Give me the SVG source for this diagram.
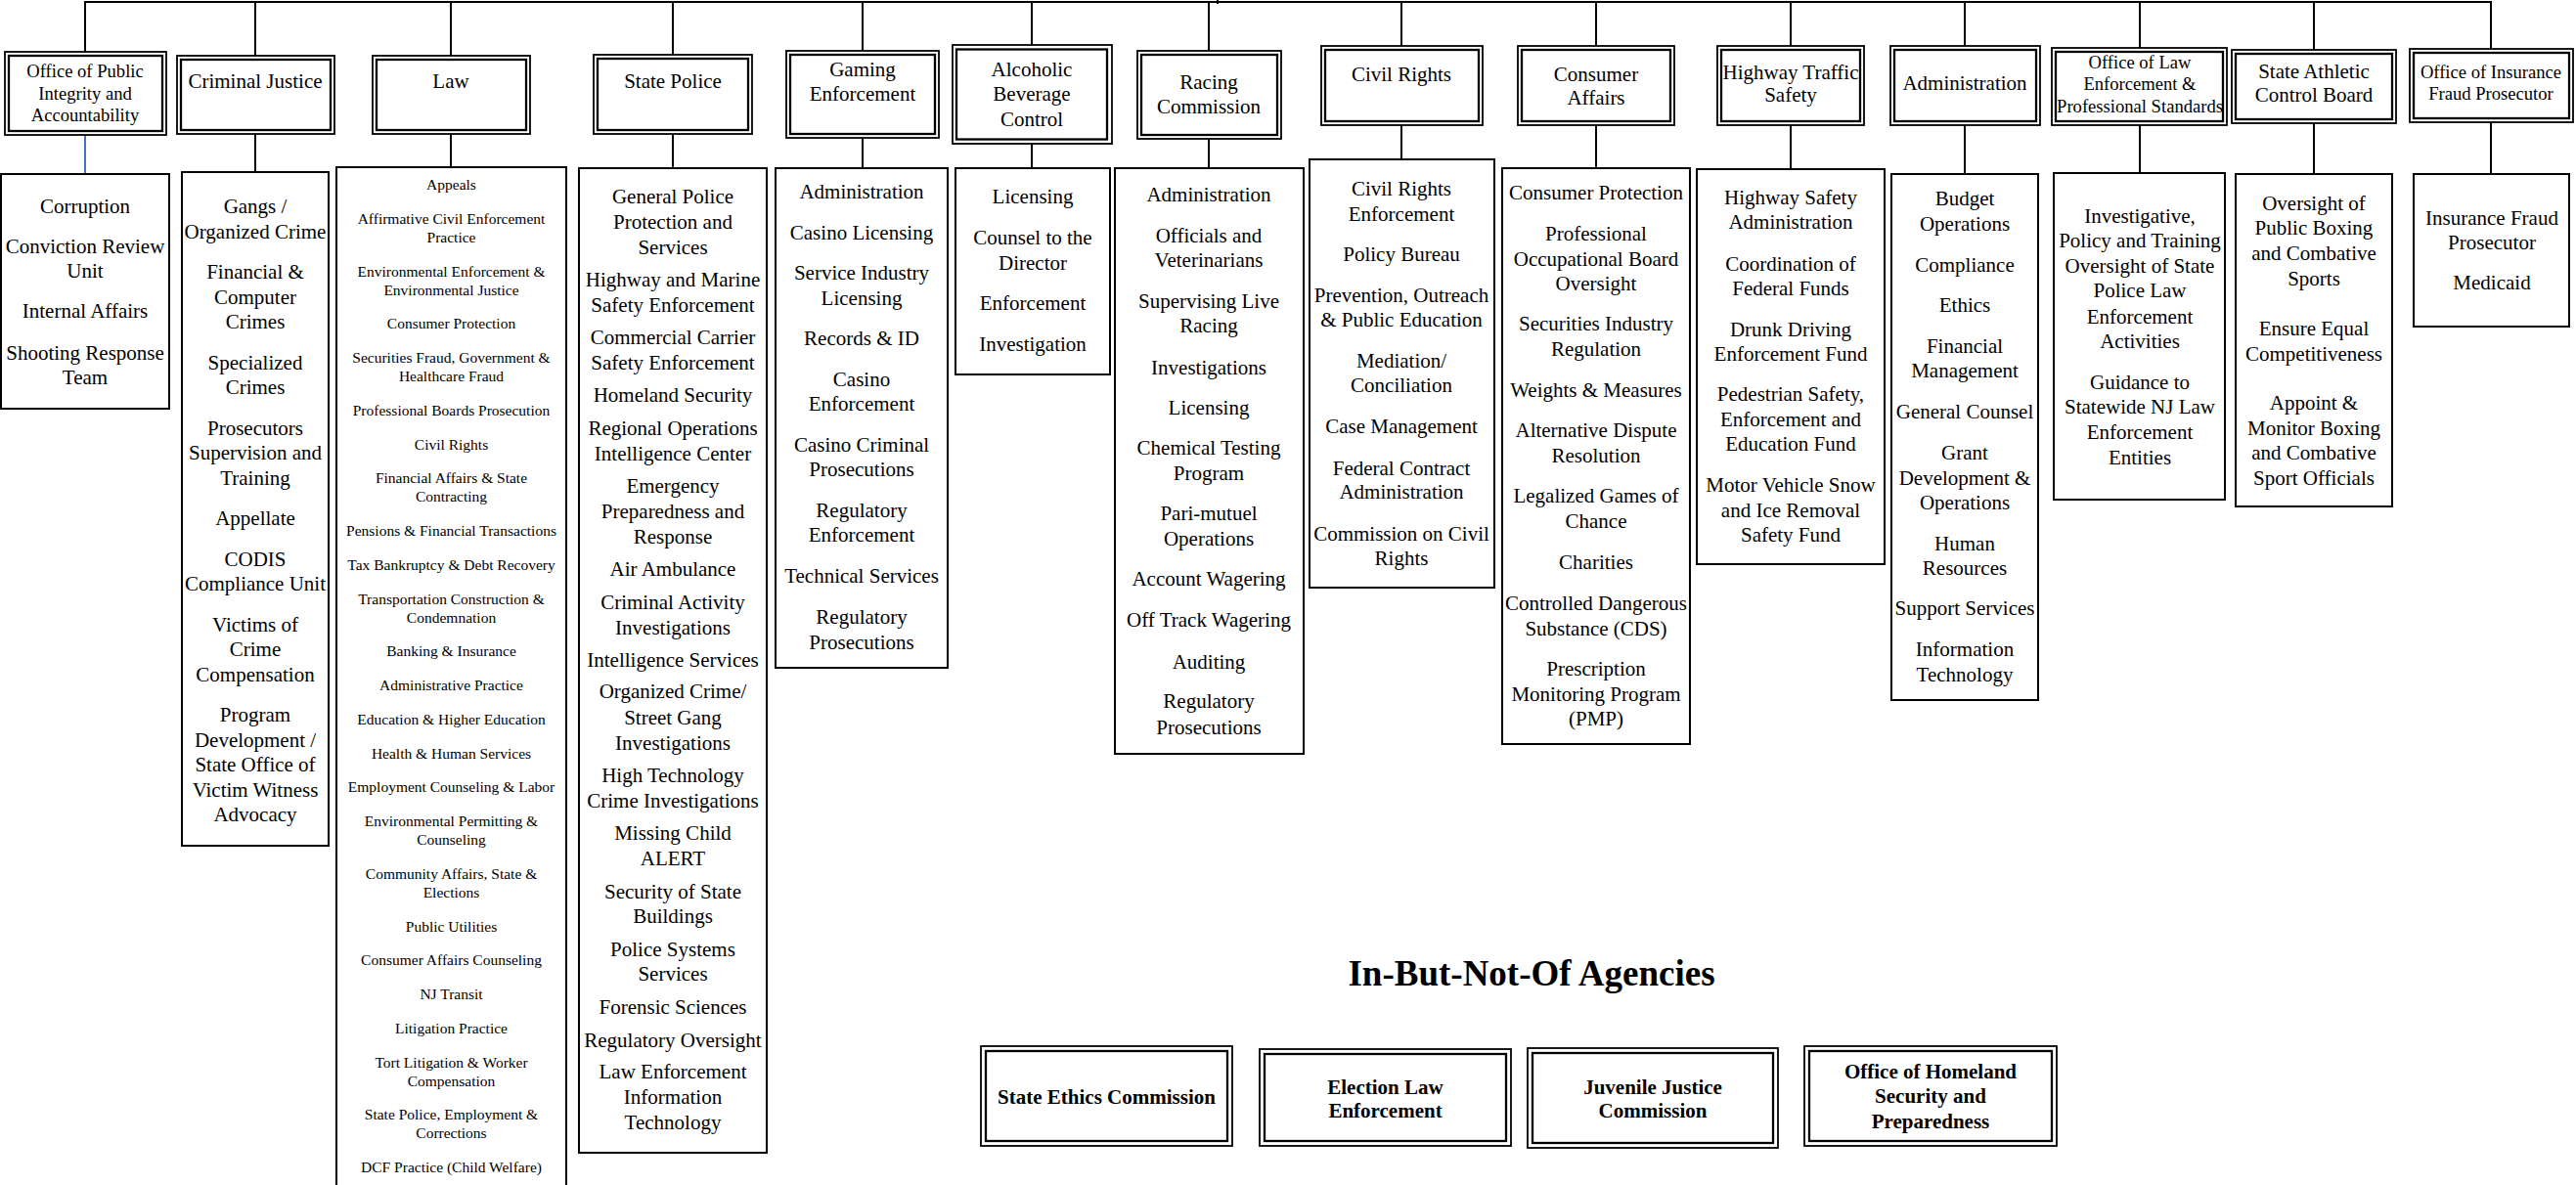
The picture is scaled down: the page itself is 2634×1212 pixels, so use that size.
<svg xmlns="http://www.w3.org/2000/svg" width="2634" height="1212" viewBox="0 0 2634 1212">
<style>
.o{fill:#fff;stroke:#000;stroke-width:1.8}
.i{fill:none;stroke:#000;stroke-width:2.3}
.b{fill:#fff;stroke:#000;stroke-width:2}
.c{fill:none;stroke:#000;stroke-width:2}
.blue{fill:none;stroke:#4472C4;stroke-width:2}
text{font-family:"Liberation Serif","Times New Roman",serif;text-anchor:middle;fill:#000}
.t{font-size:21px}
.s{font-size:18.6px}
.x{font-size:15.5px}
.bt{font-size:21px;font-weight:bold}
.title{font-size:37px;font-weight:bold}
</style>
<rect width="2634" height="1212" fill="#fff"/>
<g id="connectors">
<line class="c" x1="86" y1="2" x2="2548" y2="2"/>
<line class="c" x1="1245" y1="-5" x2="1245" y2="4"/>
<line class="c" x1="87" y1="2" x2="87" y2="53"/>
<line class="c" x1="261" y1="2" x2="261" y2="57"/>
<line class="c" x1="461" y1="2" x2="461" y2="57"/>
<line class="c" x1="688" y1="2" x2="688" y2="56"/>
<line class="c" x1="882" y1="2" x2="882" y2="52"/>
<line class="c" x1="1055" y1="2" x2="1055" y2="46"/>
<line class="c" x1="1236" y1="2" x2="1236" y2="52"/>
<line class="c" x1="1433" y1="2" x2="1433" y2="47"/>
<line class="c" x1="1632" y1="2" x2="1632" y2="47"/>
<line class="c" x1="1831" y1="2" x2="1831" y2="47"/>
<line class="c" x1="2009" y1="2" x2="2009" y2="47"/>
<line class="c" x1="2188" y1="2" x2="2188" y2="49"/>
<line class="c" x1="2366" y1="2" x2="2366" y2="51"/>
<line class="c" x1="2547" y1="2" x2="2547" y2="50"/>
<line class="blue" x1="87" y1="138" x2="87" y2="178"/>
<line class="c" x1="261" y1="137" x2="261" y2="176"/>
<line class="c" x1="461" y1="137" x2="461" y2="171"/>
<line class="c" x1="688" y1="137" x2="688" y2="172"/>
<line class="c" x1="882" y1="141" x2="882" y2="172"/>
<line class="c" x1="1055" y1="147" x2="1055" y2="172"/>
<line class="c" x1="1236" y1="142" x2="1236" y2="172"/>
<line class="c" x1="1433" y1="128" x2="1433" y2="163"/>
<line class="c" x1="1632" y1="128" x2="1632" y2="172"/>
<line class="c" x1="1831" y1="128" x2="1831" y2="173"/>
<line class="c" x1="2009" y1="128" x2="2009" y2="178"/>
<line class="c" x1="2188" y1="128" x2="2188" y2="177"/>
<line class="c" x1="2366" y1="126" x2="2366" y2="178"/>
<line class="c" x1="2547" y1="125" x2="2547" y2="178"/>
</g>

<g id="opia-head">
<rect class="o" x="5" y="53" width="165" height="85"/>
<rect class="i" x="9" y="57" width="157" height="77"/>
<text class="s"><tspan x="87" y="79">Office of Public</tspan><tspan x="87" y="102">Integrity and</tspan><tspan x="87" y="124">Accountability</tspan></text>
</g>
<g id="opia-units">
<rect class="b" x="1" y="178" width="172" height="240"/>
<text class="t"><tspan x="87" y="218">Corruption</tspan><tspan x="87" y="259">Conviction Review</tspan><tspan x="87" y="284">Unit</tspan><tspan x="87" y="325">Internal Affairs</tspan><tspan x="87" y="368">Shooting Response</tspan><tspan x="87" y="393">Team</tspan></text>
</g>

<g id="cj-head">
<rect class="o" x="181" y="57" width="161" height="80"/>
<rect class="i" x="185" y="61" width="153" height="72"/>
<text class="t" x="261" y="90">Criminal Justice</text>
</g>
<g id="cj-units">
<rect class="b" x="186" y="176" width="150" height="689"/>
<text class="t"><tspan x="261" y="218">Gangs /</tspan><tspan x="261" y="243.5">Organized Crime</tspan><tspan x="261" y="285">Financial &amp;</tspan><tspan x="261" y="310.5">Computer</tspan><tspan x="261" y="336">Crimes</tspan><tspan x="261" y="377.5">Specialized</tspan><tspan x="261" y="403">Crimes</tspan><tspan x="261" y="444.5">Prosecutors</tspan><tspan x="261" y="470">Supervision and</tspan><tspan x="261" y="495.5">Training</tspan><tspan x="261" y="537">Appellate</tspan><tspan x="261" y="578.5">CODIS</tspan><tspan x="261" y="604">Compliance Unit</tspan><tspan x="261" y="645.5">Victims of</tspan><tspan x="261" y="671">Crime</tspan><tspan x="261" y="696.5">Compensation</tspan><tspan x="261" y="738">Program</tspan><tspan x="261" y="763.5">Development /</tspan><tspan x="261" y="789">State Office of</tspan><tspan x="261" y="814.5">Victim Witness</tspan><tspan x="261" y="840">Advocacy</tspan></text>
</g>

<g id="law-head">
<rect class="o" x="381" y="57" width="161" height="80"/>
<rect class="i" x="385" y="61" width="153" height="72"/>
<text class="t" x="461" y="90">Law</text>
</g>
<g id="law-units">
<rect class="b" x="344" y="171" width="235" height="1050"/>
<text class="x"><tspan x="461.5" y="194">Appeals</tspan><tspan x="461.5" y="229">Affirmative Civil Enforcement</tspan><tspan x="461.5" y="248">Practice</tspan><tspan x="461.5" y="282.5">Environmental Enforcement &amp;</tspan><tspan x="461.5" y="301.5">Environmental Justice</tspan><tspan x="461.5" y="336">Consumer Protection</tspan><tspan x="461.5" y="371">Securities Fraud, Government &amp;</tspan><tspan x="461.5" y="390">Healthcare Fraud</tspan><tspan x="461.5" y="425">Professional Boards Prosecution</tspan><tspan x="461.5" y="459.5">Civil Rights</tspan><tspan x="461.5" y="494">Financial Affairs &amp; State</tspan><tspan x="461.5" y="513">Contracting</tspan><tspan x="461.5" y="548">Pensions &amp; Financial Transactions</tspan><tspan x="461.5" y="583">Tax Bankruptcy &amp; Debt Recovery</tspan><tspan x="461.5" y="617.5">Transportation Construction &amp;</tspan><tspan x="461.5" y="636.5">Condemnation</tspan><tspan x="461.5" y="671">Banking &amp; Insurance</tspan><tspan x="461.5" y="706">Administrative Practice</tspan><tspan x="461.5" y="741">Education &amp; Higher Education</tspan><tspan x="461.5" y="775.5">Health &amp; Human Services</tspan><tspan x="461.5" y="810">Employment Counseling &amp; Labor</tspan><tspan x="461.5" y="845">Environmental Permitting &amp;</tspan><tspan x="461.5" y="864">Counseling</tspan><tspan x="461.5" y="899">Community Affairs, State &amp;</tspan><tspan x="461.5" y="918">Elections</tspan><tspan x="461.5" y="952.5">Public Utilities</tspan><tspan x="461.5" y="987">Consumer Affairs Counseling</tspan><tspan x="461.5" y="1022">NJ Transit</tspan><tspan x="461.5" y="1057">Litigation Practice</tspan><tspan x="461.5" y="1091.5">Tort Litigation &amp; Worker</tspan><tspan x="461.5" y="1110.5">Compensation</tspan><tspan x="461.5" y="1145">State Police, Employment &amp;</tspan><tspan x="461.5" y="1164">Corrections</tspan><tspan x="461.5" y="1199">DCF Practice (Child Welfare)</tspan></text>
</g>

<g id="sp-head">
<rect class="o" x="607" y="56" width="162" height="81"/>
<rect class="i" x="611" y="60" width="154" height="73"/>
<text class="t" x="688" y="90">State Police</text>
</g>
<g id="sp-units">
<rect class="b" x="592" y="172" width="192" height="1007"/>
<text class="t"><tspan x="688" y="208">General Police</tspan><tspan x="688" y="234">Protection and</tspan><tspan x="688" y="260">Services</tspan><tspan x="688" y="293">Highway and Marine</tspan><tspan x="688" y="319">Safety Enforcement</tspan><tspan x="688" y="352">Commercial Carrier</tspan><tspan x="688" y="378">Safety Enforcement</tspan><tspan x="688" y="411">Homeland Security</tspan><tspan x="688" y="445">Regional Operations</tspan><tspan x="688" y="471">Intelligence Center</tspan><tspan x="688" y="504">Emergency</tspan><tspan x="688" y="530">Preparedness and</tspan><tspan x="688" y="556">Response</tspan><tspan x="688" y="589">Air Ambulance</tspan><tspan x="688" y="623">Criminal Activity</tspan><tspan x="688" y="649">Investigations</tspan><tspan x="688" y="682">Intelligence Services</tspan><tspan x="688" y="714">Organized Crime/</tspan><tspan x="688" y="741">Street Gang</tspan><tspan x="688" y="767">Investigations</tspan><tspan x="688" y="800">High Technology</tspan><tspan x="688" y="826">Crime Investigations</tspan><tspan x="688" y="859">Missing Child</tspan><tspan x="688" y="885">ALERT</tspan><tspan x="688" y="919">Security of State</tspan><tspan x="688" y="944">Buildings</tspan><tspan x="688" y="978">Police Systems</tspan><tspan x="688" y="1003">Services</tspan><tspan x="688" y="1037">Forensic Sciences</tspan><tspan x="688" y="1071">Regulatory Oversight</tspan><tspan x="688" y="1103">Law Enforcement</tspan><tspan x="688" y="1129">Information</tspan><tspan x="688" y="1155">Technology</tspan></text>
</g>

<g id="ge-head">
<rect class="o" x="804" y="52" width="156" height="89"/>
<rect class="i" x="808" y="56" width="148" height="81"/>
<text class="t"><tspan x="882" y="78">Gaming</tspan><tspan x="882" y="103">Enforcement</tspan></text>
</g>
<g id="ge-units">
<rect class="b" x="793" y="172" width="176" height="511"/>
<text class="t"><tspan x="881" y="203">Administration</tspan><tspan x="881" y="244.5">Casino Licensing</tspan><tspan x="881" y="286">Service Industry</tspan><tspan x="881" y="311.5">Licensing</tspan><tspan x="881" y="353">Records &amp; ID</tspan><tspan x="881" y="394.5">Casino</tspan><tspan x="881" y="420">Enforcement</tspan><tspan x="881" y="461.5">Casino Criminal</tspan><tspan x="881" y="487">Prosecutions</tspan><tspan x="881" y="528.5">Regulatory</tspan><tspan x="881" y="554">Enforcement</tspan><tspan x="881" y="596">Technical Services</tspan><tspan x="881" y="638">Regulatory</tspan><tspan x="881" y="664">Prosecutions</tspan></text>
</g>

<g id="abc-head">
<rect class="o" x="974" y="46" width="163" height="101"/>
<rect class="i" x="978" y="50.5" width="154" height="92"/>
<text class="t"><tspan x="1055" y="78">Alcoholic</tspan><tspan x="1055" y="103">Beverage</tspan><tspan x="1055" y="129">Control</tspan></text>
</g>
<g id="abc-units">
<rect class="b" x="977" y="172" width="158" height="211"/>
<text class="t"><tspan x="1056" y="208">Licensing</tspan><tspan x="1056" y="250">Counsel to the</tspan><tspan x="1056" y="275.5">Director</tspan><tspan x="1056" y="317">Enforcement</tspan><tspan x="1056" y="359">Investigation</tspan></text>
</g>

<g id="rc-head">
<rect class="o" x="1163" y="52" width="147" height="90"/>
<rect class="i" x="1167" y="56" width="139" height="82"/>
<text class="t"><tspan x="1236" y="91">Racing</tspan><tspan x="1236" y="116">Commission</tspan></text>
</g>
<g id="rc-units">
<rect class="b" x="1140" y="172" width="193" height="599"/>
<text class="t"><tspan x="1236" y="206">Administration</tspan><tspan x="1236" y="248">Officials and</tspan><tspan x="1236" y="273">Veterinarians</tspan><tspan x="1236" y="315">Supervising Live</tspan><tspan x="1236" y="340">Racing</tspan><tspan x="1236" y="383">Investigations</tspan><tspan x="1236" y="424">Licensing</tspan><tspan x="1236" y="465">Chemical Testing</tspan><tspan x="1236" y="491">Program</tspan><tspan x="1236" y="532">Pari-mutuel</tspan><tspan x="1236" y="558">Operations</tspan><tspan x="1236" y="599">Account Wagering</tspan><tspan x="1236" y="641">Off Track Wagering</tspan><tspan x="1236" y="684">Auditing</tspan><tspan x="1236" y="724">Regulatory</tspan><tspan x="1236" y="751">Prosecutions</tspan></text>
</g>

<g id="cr-head">
<rect class="o" x="1351" y="47" width="165" height="81"/>
<rect class="i" x="1355" y="51" width="157" height="73"/>
<text class="t" x="1433" y="83">Civil Rights</text>
</g>
<g id="cr-units">
<rect class="b" x="1339" y="163" width="189" height="438"/>
<text class="t"><tspan x="1433" y="200">Civil Rights</tspan><tspan x="1433" y="226">Enforcement</tspan><tspan x="1433" y="267">Policy Bureau</tspan><tspan x="1433" y="309">Prevention, Outreach</tspan><tspan x="1433" y="334">&amp; Public Education</tspan><tspan x="1433" y="376">Mediation/</tspan><tspan x="1433" y="401">Conciliation</tspan><tspan x="1433" y="443">Case Management</tspan><tspan x="1433" y="486">Federal Contract</tspan><tspan x="1433" y="510">Administration</tspan><tspan x="1433" y="553">Commission on Civil</tspan><tspan x="1433" y="578">Rights</tspan></text>
</g>

<g id="ca-head">
<rect class="o" x="1552" y="47" width="160" height="81"/>
<rect class="i" x="1556" y="51" width="152" height="73"/>
<text class="t"><tspan x="1632" y="83">Consumer</tspan><tspan x="1632" y="107">Affairs</tspan></text>
</g>
<g id="ca-units">
<rect class="b" x="1536" y="172" width="192" height="589"/>
<text class="t"><tspan x="1632" y="204">Consumer Protection</tspan><tspan x="1632" y="246">Professional</tspan><tspan x="1632" y="272">Occupational Board</tspan><tspan x="1632" y="297">Oversight</tspan><tspan x="1632" y="338">Securities Industry</tspan><tspan x="1632" y="364">Regulation</tspan><tspan x="1632" y="406">Weights &amp; Measures</tspan><tspan x="1632" y="447">Alternative Dispute</tspan><tspan x="1632" y="473">Resolution</tspan><tspan x="1632" y="514">Legalized Games of</tspan><tspan x="1632" y="540">Chance</tspan><tspan x="1632" y="582">Charities</tspan><tspan x="1632" y="624">Controlled Dangerous</tspan><tspan x="1632" y="650">Substance (CDS)</tspan><tspan x="1632" y="691">Prescription</tspan><tspan x="1632" y="717">Monitoring Program</tspan><tspan x="1632" y="742">(PMP)</tspan></text>
</g>

<g id="hts-head">
<rect class="o" x="1756" y="47" width="150" height="81"/>
<rect class="i" x="1760" y="51" width="142" height="73"/>
<text class="t"><tspan x="1831" y="81">Highway Traffic</tspan><tspan x="1831" y="104">Safety</tspan></text>
</g>
<g id="hts-units">
<rect class="b" x="1735" y="173" width="192" height="404"/>
<text class="t"><tspan x="1831" y="209">Highway Safety</tspan><tspan x="1831" y="234">Administration</tspan><tspan x="1831" y="277">Coordination of</tspan><tspan x="1831" y="302">Federal Funds</tspan><tspan x="1831" y="344">Drunk Driving</tspan><tspan x="1831" y="369">Enforcement Fund</tspan><tspan x="1831" y="410">Pedestrian Safety,</tspan><tspan x="1831" y="436">Enforcement and</tspan><tspan x="1831" y="461">Education Fund</tspan><tspan x="1831" y="503">Motor Vehicle Snow</tspan><tspan x="1831" y="529">and Ice Removal</tspan><tspan x="1831" y="554">Safety Fund</tspan></text>
</g>

<g id="adm-head">
<rect class="o" x="1933" y="47" width="153" height="81"/>
<rect class="i" x="1937" y="51" width="145" height="73"/>
<text class="t" x="2009" y="92">Administration</text>
</g>
<g id="adm-units">
<rect class="b" x="1934" y="178" width="150" height="538"/>
<text class="t"><tspan x="2009" y="210">Budget</tspan><tspan x="2009" y="236">Operations</tspan><tspan x="2009" y="278">Compliance</tspan><tspan x="2009" y="319">Ethics</tspan><tspan x="2009" y="361">Financial</tspan><tspan x="2009" y="386">Management</tspan><tspan x="2009" y="428">General Counsel</tspan><tspan x="2009" y="470">Grant</tspan><tspan x="2009" y="496">Development &amp;</tspan><tspan x="2009" y="521">Operations</tspan><tspan x="2009" y="563">Human</tspan><tspan x="2009" y="588">Resources</tspan><tspan x="2009" y="629">Support Services</tspan><tspan x="2009" y="671">Information</tspan><tspan x="2009" y="697">Technology</tspan></text>
</g>

<g id="oleps-head">
<rect class="o" x="2098" y="49" width="179" height="79"/>
<rect class="i" x="2102" y="53" width="171" height="71"/>
<text class="s"><tspan x="2188" y="70">Office of Law</tspan><tspan x="2188" y="92">Enforcement &amp;</tspan><tspan x="2188" y="115">Professional Standards</tspan></text>
</g>
<g id="oleps-units">
<rect class="b" x="2100" y="177" width="175" height="334"/>
<text class="t"><tspan x="2188" y="228">Investigative,</tspan><tspan x="2188" y="253">Policy and Training</tspan><tspan x="2188" y="279">Oversight of  State</tspan><tspan x="2188" y="304">Police Law</tspan><tspan x="2188" y="331">Enforcement</tspan><tspan x="2188" y="356">Activities</tspan><tspan x="2188" y="398">Guidance to</tspan><tspan x="2188" y="423">Statewide NJ Law</tspan><tspan x="2188" y="449">Enforcement</tspan><tspan x="2188" y="475">Entities</tspan></text>
</g>

<g id="sacb-head">
<rect class="o" x="2282" y="51" width="168" height="75"/>
<rect class="i" x="2286" y="55" width="160" height="67"/>
<text class="t"><tspan x="2366" y="80">State Athletic</tspan><tspan x="2366" y="104">Control Board</tspan></text>
</g>
<g id="sacb-units">
<rect class="b" x="2286" y="178" width="160" height="340"/>
<text class="t"><tspan x="2366" y="215">Oversight of</tspan><tspan x="2366" y="240">Public Boxing</tspan><tspan x="2366" y="266">and Combative</tspan><tspan x="2366" y="292">Sports</tspan><tspan x="2366" y="343">Ensure Equal</tspan><tspan x="2366" y="369">Competitiveness</tspan><tspan x="2366" y="419">Appoint &amp;</tspan><tspan x="2366" y="445">Monitor Boxing</tspan><tspan x="2366" y="470">and Combative</tspan><tspan x="2366" y="496">Sport Officials</tspan></text>
</g>

<g id="oifp-head">
<rect class="o" x="2464" y="50" width="167" height="75"/>
<rect class="i" x="2468" y="54" width="159" height="67"/>
<text class="s"><tspan x="2547" y="80">Office of Insurance</tspan><tspan x="2547" y="102">Fraud Prosecutor</tspan></text>
</g>
<g id="oifp-units">
<rect class="b" x="2468" y="178" width="159" height="156"/>
<text class="t"><tspan x="2548" y="230">Insurance Fraud</tspan><tspan x="2548" y="255">Prosecutor</tspan><tspan x="2548" y="296">Medicaid</tspan></text>
</g>

<g id="ibno-title">
<text class="title" x="1566" y="1008">In-But-Not-Of Agencies</text>
</g>
<g id="ibno-ethics">
<rect class="o" x="1003" y="1070" width="257" height="102"/>
<rect class="i" x="1008" y="1075" width="247" height="92"/>
<text class="bt" x="1131.5" y="1129">State Ethics Commission</text>
</g>
<g id="ibno-election">
<rect class="o" x="1288" y="1073" width="257" height="99"/>
<rect class="i" x="1293" y="1078" width="247" height="89"/>
<text class="bt"><tspan x="1416.5" y="1119">Election Law</tspan><tspan x="1416.5" y="1143">Enforcement</tspan></text>
</g>
<g id="ibno-juvenile">
<rect class="o" x="1562" y="1072" width="256" height="102"/>
<rect class="i" x="1567" y="1077" width="246" height="92"/>
<text class="bt"><tspan x="1690" y="1119">Juvenile Justice</tspan><tspan x="1690" y="1143">Commission</tspan></text>
</g>
<g id="ibno-homeland">
<rect class="o" x="1845" y="1070" width="258" height="102"/>
<rect class="i" x="1850" y="1075" width="248" height="92"/>
<text class="bt"><tspan x="1974" y="1103">Office of Homeland</tspan><tspan x="1974" y="1128">Security and</tspan><tspan x="1974" y="1154">Preparedness</tspan></text>
</g>
</svg>
